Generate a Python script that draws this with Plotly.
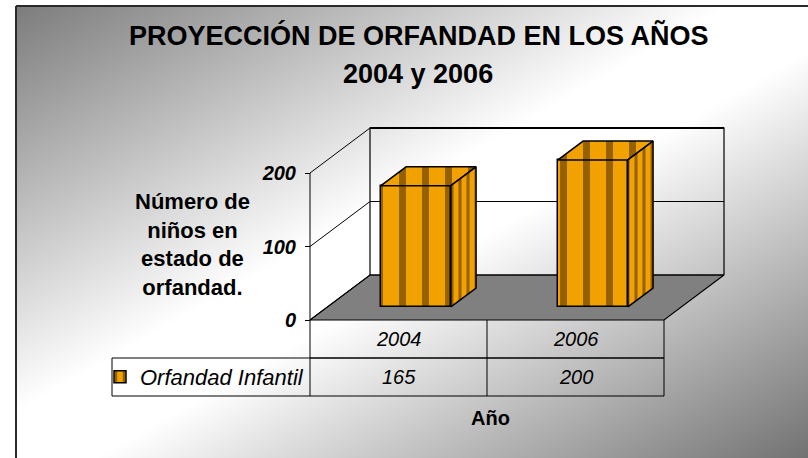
import base64
import plotly.graph_objects as go

# ---------------- data ----------------
CATEGORIES = ["2004", "2006"]
SERIES_NAME = "Orfandad Infantil"
VALUES = [165, 200]
Y_TICKS = [0, 100, 200]
TITLE_LINES = ["PROYECCIÓN DE ORFANDAD EN LOS AÑOS", "2004 y 2006"]
Y_TITLE = "Número de<br>niños en<br>estado de<br>orfandad."
X_TITLE = "Año"

# ---------------- layout constants (pixels) ----------------
W, H = 808, 458
FRONT_LEFT_PX = 310      # front-left corner of the floor
CAT_PX = 177             # width of one category on the front plane
ZERO_PX = 320            # vertical pixel of value 0 (front)
PX_PER_UNIT = 0.735      # pixels per value unit
DEPTH_DX_PX, DEPTH_DY_PX = 60, 45
ROW_PX = 38
TABLE_LEFT_PX = 112
FONT = "Liberation Sans, Arial, sans-serif"

DX = DEPTH_DX_PX / CAT_PX
DY = DEPTH_DY_PX / PX_PER_UNIT
ROW = ROW_PX / PX_PER_UNIT
YMAX = max(Y_TICKS)
N = len(CATEGORIES)
XL, XR = -0.5, N - 0.5
X_RANGE = [-0.5 - FRONT_LEFT_PX / CAT_PX, -0.5 + (W - FRONT_LEFT_PX) / CAT_PX]
Y_RANGE = [-(H - ZERO_PX) / PX_PER_UNIT, ZERO_PX / PX_PER_UNIT]
TABLE_LEFT = -0.5 + (TABLE_LEFT_PX - FRONT_LEFT_PX) / CAT_PX

F0, F1 = 0.29, 0.71      # depth fraction of bar front / back
BW = 0.395               # bar width in category units

DARK = "#946000"
LIGHT = "#f2a200"

def px(x):
    return x / W

def py(y):
    return 1 - y / H

fig = go.Figure()

# ---------- floor ----------
fig.add_trace(go.Scatter(
    x=[XL, XR, XR + DX, XL + DX, XL], y=[0, 0, DY, DY, 0],
    mode="lines", fill="toself", fillcolor="#808080",
    line=dict(color="black", width=1.2), hoverinfo="skip", showlegend=False))

# ---------- back wall outline ----------
fig.add_trace(go.Scatter(
    x=[XL + DX, XL + DX, XR + DX, XR + DX],
    y=[DY, DY + YMAX, DY + YMAX, DY],
    mode="lines", line=dict(color="black", width=1.2),
    hoverinfo="skip", showlegend=False))
fig.add_trace(go.Scatter(
    x=[XL + DX, XR + DX], y=[DY + YMAX, DY + YMAX],
    mode="lines", line=dict(color="black", width=2.2),
    hoverinfo="skip", showlegend=False))

# ---------- gridlines (back wall + side) ----------
gx, gy = [], []
for t in Y_TICKS:
    gx += [XL, XL + DX, XR + DX, None]
    gy += [t, t + DY, t + DY, None]
fig.add_trace(go.Scatter(x=gx, y=gy, mode="lines",
                         line=dict(color="black", width=1),
                         hoverinfo="skip", showlegend=False))

# ---------- front value axis line ----------
fig.add_trace(go.Scatter(x=[XL, XL], y=[0, YMAX], mode="lines",
                         line=dict(color="black", width=1),
                         hoverinfo="skip", showlegend=False))

# ---------- data table lines ----------
tx, ty = [], []
tx += [XL, XR, None]; ty += [-ROW, -ROW, None]
tx += [TABLE_LEFT, XR, None]; ty += [-ROW, -ROW, None]
tx += [TABLE_LEFT, XR, None]; ty += [-2 * ROW, -2 * ROW, None]
tx += [TABLE_LEFT, TABLE_LEFT, None]; ty += [-ROW, -2 * ROW, None]
for k in range(N + 1):
    tx += [XL + k, XL + k, None]; ty += [0, -2 * ROW, None]
fig.add_trace(go.Scatter(x=tx, y=ty, mode="lines",
                         line=dict(color="black", width=1),
                         hoverinfo="skip", showlegend=False))

# ---------- bars (overlay subplot so they sit above the floor) ----------
base0 = F0 * DY
xoff = F0 * DX
ddx, ddy = (F1 - F0) * DX, (F1 - F0) * DY
fig.add_trace(go.Bar(
    x=[i + xoff for i in range(N)], y=VALUES, base=base0, width=BW,
    name=SERIES_NAME, xaxis="x2", yaxis="y2",
    marker=dict(color=LIGHT, line=dict(color="black", width=1.5),
                pattern=dict(shape="|", size=23, solidity=0.3,
                             fgcolor=DARK, bgcolor=LIGHT, fillmode="replace")),
    hoverinfo="skip", showlegend=True))

for i, v in enumerate(VALUES):
    xl = i + xoff - BW / 2
    xr = i + xoff + BW / 2
    top = v + base0
    # top face
    fig.add_trace(go.Scatter(
        x=[xl, xr, xr + ddx, xl + ddx, xl],
        y=[top, top, top + ddy, top + ddy, top],
        mode="lines", fill="toself", fillcolor=LIGHT,
        fillpattern=dict(shape="|", size=23, solidity=0.3,
                         fgcolor=DARK, bgcolor=LIGHT, fillmode="replace"),
        line=dict(color="black", width=1.5), xaxis="x2", yaxis="y2",
        hoverinfo="skip", showlegend=False))
    # side face
    fig.add_trace(go.Scatter(
        x=[xr, xr + ddx, xr + ddx, xr, xr],
        y=[base0, base0 + ddy, top + ddy, top, base0],
        mode="lines", fill="toself", fillcolor=LIGHT,
        fillpattern=dict(shape="|", size=8, solidity=0.38,
                         fgcolor=DARK, bgcolor=LIGHT, fillmode="replace"),
        line=dict(color="black", width=1.5), xaxis="x2", yaxis="y2",
        hoverinfo="skip", showlegend=False))

# ---------- annotations ----------
ann = []
ann.append(dict(text=f"<b>{TITLE_LINES[0]}</b>", x=px(419), y=py(36),
                xref="paper", yref="paper", showarrow=False,
                font=dict(family=FONT, size=27, color="black"),
                xanchor="center", yanchor="middle"))
ann.append(dict(text=f"<b>{TITLE_LINES[1]}</b>", x=px(418), y=py(74),
                xref="paper", yref="paper", showarrow=False,
                font=dict(family=FONT, size=27, color="black"),
                xanchor="center", yanchor="middle"))
ann.append(dict(text=f"<b>{Y_TITLE}</b>", x=px(192), y=py(244),
                xref="paper", yref="paper", showarrow=False, align="center",
                font=dict(family=FONT, size=22, color="black"),
                xanchor="center", yanchor="middle"))
ann.append(dict(text=f"<b>{X_TITLE}</b>", x=px(490), y=py(418),
                xref="paper", yref="paper", showarrow=False,
                font=dict(family=FONT, size=20, color="black"),
                xanchor="center", yanchor="middle"))
for i, c in enumerate(CATEGORIES):
    ann.append(dict(text=c, x=i, y=-ROW / 2, xref="x", yref="y",
                    showarrow=False,
                    font=dict(family=FONT, size=20, color="black", style="italic"),
                    xanchor="center", yanchor="middle"))
for i, v in enumerate(VALUES):
    ann.append(dict(text=str(v), x=i, y=-1.5 * ROW, xref="x", yref="y",
                    showarrow=False,
                    font=dict(family=FONT, size=20, color="black", style="italic"),
                    xanchor="center", yanchor="middle"))

# ---------- gradient background ----------
BG_W, BG_H = W - 16, H - 6
svg = (f'<svg xmlns="http://www.w3.org/2000/svg" width="{BG_W}" height="{BG_H}" '
       f'viewBox="0 0 {BG_W} {BG_H}" preserveAspectRatio="none">'
       '<defs><linearGradient id="g" x1="0" y1="0" x2="1" y2="1">'
       '<stop offset="0" stop-color="#7c7c7c"/>'
       '<stop offset="0.45" stop-color="#ffffff"/>'
       '<stop offset="0.55" stop-color="#ffffff"/>'
       '<stop offset="1" stop-color="#727272"/>'
       '</linearGradient></defs>'
       f'<rect width="{BG_W}" height="{BG_H}" fill="url(#g)"/></svg>')
src = "data:image/svg+xml;base64," + base64.b64encode(svg.encode()).decode()

fig.update_layout(
    width=W, height=H, autosize=False,
    margin=dict(l=0, r=0, t=0, b=0, pad=0),
    paper_bgcolor="white", plot_bgcolor="rgba(0,0,0,0)",
    images=[dict(source=src, xref="paper", yref="paper",
                 x=px(16), y=py(6), sizex=BG_W / W, sizey=BG_H / H,
                 xanchor="left", yanchor="top", sizing="stretch",
                 layer="below")],
    shapes=[
        dict(type="line", xref="paper", yref="paper",
             x0=px(16), x1=1, y0=py(6), y1=py(6),
             line=dict(color="#2a2a2a", width=2)),
        dict(type="line", xref="paper", yref="paper",
             x0=px(16), x1=px(16), y0=py(6), y1=0,
             line=dict(color="#2a2a2a", width=2)),
    ],
    annotations=ann,
    xaxis=dict(range=X_RANGE, visible=False, fixedrange=True, domain=[0, 1]),
    yaxis=dict(range=Y_RANGE, fixedrange=True, domain=[0, 1],
               anchor="free", position=FRONT_LEFT_PX / W,
               showgrid=False, zeroline=False, showline=False,
               tickmode="array", tickvals=Y_TICKS,
               ticks="outside", ticklen=5, tickwidth=1, tickcolor="black",
               ticklabelstandoff=5,
               tickfont=dict(family=FONT, size=20, color="black",
                             weight="bold", style="italic")),
    xaxis2=dict(range=X_RANGE, overlaying="x", anchor="y2", visible=False,
                fixedrange=True),
    yaxis2=dict(range=Y_RANGE, overlaying="y", anchor="x2", visible=False,
                fixedrange=True),
    showlegend=True,
    legend=dict(x=px(100), y=py(377), xanchor="left", yanchor="middle",
                bgcolor="rgba(0,0,0,0)", borderwidth=0,
                font=dict(family=FONT, size=22, color="black", style="italic")),
    bargap=0,
)

fig.write_html("out.html", config={"displayModeBar": False},
               post_script="document.body.style.margin='0';"
                           "document.body.style.padding='0';")
